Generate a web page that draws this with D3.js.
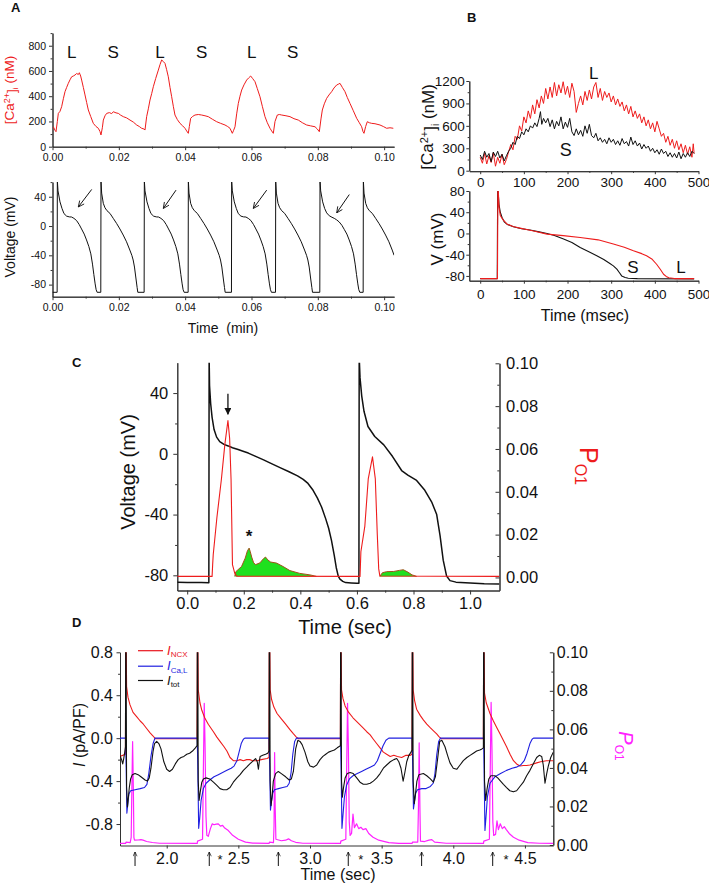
<!DOCTYPE html>
<html><head><meta charset="utf-8">
<script src="https://cdn.jsdelivr.net/npm/d3@7"></script>
<style>body{margin:0;background:#fff}svg{display:block}</style>
</head><body>
<script>
// ---------------- DATA ----------------
// Panel A top: [Ca2+]i (nM) vs time (min)
const caA = [[0.00025,158],[0.00075,130],[0.00106,119],[0.00146,200],[0.00176,264],[0.00226,280],[0.00276,317],[0.00327,380],[0.00377,436],[0.00427,470],[0.00477,502],[0.00528,530],[0.00578,554],[0.00628,560],[0.00678,568],[0.00729,580],[0.00779,572],[0.00809,586],[0.00849,560],[0.00879,528],[0.0093,470],[0.0098,410],[0.0103,350],[0.0108,291],[0.01151,240],[0.01231,185],[0.01312,160],[0.01382,146],[0.01432,120],[0.01462,93],[0.01503,150],[0.01533,211],[0.01583,245],[0.01633,264],[0.01714,270],[0.01784,262],[0.01834,277],[0.01915,268],[0.01985,264],[0.02055,250],[0.02136,238],[0.02236,228],[0.02337,211],[0.02437,195],[0.02538,172],[0.02618,160],[0.02688,146],[0.02759,140],[0.02789,132],[0.02839,238],[0.02889,300],[0.0294,370],[0.0299,420],[0.0304,475],[0.03111,540],[0.03191,607],[0.03241,650],[0.03291,687],[0.03342,675],[0.03392,660],[0.03442,610],[0.03492,554],[0.03543,470],[0.03593,396],[0.03643,320],[0.03693,251],[0.03764,215],[0.03844,185],[0.03925,165],[0.03995,146],[0.04045,125],[0.04095,106],[0.04126,160],[0.04166,225],[0.04226,240],[0.04296,251],[0.04397,255],[0.04497,251],[0.04598,245],[0.04698,238],[0.04819,218],[0.0495,198],[0.0507,185],[0.05201,172],[0.05281,160],[0.05352,146],[0.05422,106],[0.05462,130],[0.05503,158],[0.05553,260],[0.05603,343],[0.05653,400],[0.05704,449],[0.05774,490],[0.05854,528],[0.05915,545],[0.05975,560],[0.06035,540],[0.06106,515],[0.06176,460],[0.06256,396],[0.06327,320],[0.06407,238],[0.06477,190],[0.06558,146],[0.06608,125],[0.06658,106],[0.06709,200],[0.06779,251],[0.06839,255],[0.0691,251],[0.0704,245],[0.07161,238],[0.07281,222],[0.07412,211],[0.07533,190],[0.07663,172],[0.07784,165],[0.07915,158],[0.07985,140],[0.08045,119],[0.08095,220],[0.08136,291],[0.08196,340],[0.08266,383],[0.08337,410],[0.08417,436],[0.08487,465],[0.08568,489],[0.08618,495],[0.08668,502],[0.08739,470],[0.08819,436],[0.08889,390],[0.0897,343],[0.0907,285],[0.09171,225],[0.09251,190],[0.09322,158],[0.09362,120],[0.09392,106],[0.09442,160],[0.09492,198],[0.09553,190],[0.09623,185],[0.09724,182],[0.09874,172],[0.09975,160],[0.10075,146],[0.10176,150],[0.10276,146]];
// Panel A bottom: voltage (mV) vs time (min)
const vA = [[0,-90.5],[0.0014,-90.5],
[0.00146,62],[0.00166,48],[0.00226,33],[0.00286,24],[0.00346,17],[0.00426,13.5],[0.00506,12.5],[0.00576,12.3],[0.00646,10.5],[0.00726,7.5],[0.00806,2],[0.00876,-4],[0.00956,-11],[0.01026,-19],[0.01096,-28],[0.01156,-38],[0.01206,-52],[0.01246,-66],[0.01286,-79],[0.01316,-87],[0.01346,-90.5],[0.01456,-90.5],
[0.01462,62],[0.01482,45],[0.01532,31],[0.01582,25],[0.01642,21],[0.01732,17.3],[0.01832,10.5],[0.01932,3.6],[0.02032,-4],[0.02132,-12.3],[0.02232,-21.5],[0.02332,-32.8],[0.02392,-40],[0.02432,-46.4],[0.02472,-56],[0.02522,-73.7],[0.02552,-84],[0.02572,-90.5],[0.02763,-90.5],
[0.02769,62],[0.02789,48],[0.02849,33],[0.02909,24],[0.02969,17],[0.03049,13.5],[0.03129,12.5],[0.03199,12.3],[0.03269,10.5],[0.03349,7.5],[0.03429,2],[0.03499,-4],[0.03579,-11],[0.03649,-19],[0.03719,-28],[0.03779,-38],[0.03829,-52],[0.03869,-66],[0.03909,-79],[0.03939,-87],[0.03969,-90.5],[0.0409,-90.5],
[0.04096,62],[0.04116,45],[0.04166,31],[0.04216,25],[0.04276,21],[0.04366,17.3],[0.04466,10.5],[0.04566,3.6],[0.04666,-4],[0.04766,-12.3],[0.04866,-21.5],[0.04966,-32.8],[0.05026,-40],[0.05066,-46.4],[0.05106,-56],[0.05156,-73.7],[0.05186,-84],[0.05206,-90.5],[0.05396,-90.5],
[0.05402,62],[0.05422,48],[0.05482,33],[0.05542,24],[0.05602,17],[0.05682,13.5],[0.05762,12.5],[0.05832,12.3],[0.05902,10.5],[0.05982,7.5],[0.06062,2],[0.06132,-4],[0.06212,-11],[0.06282,-19],[0.06352,-28],[0.06412,-38],[0.06462,-52],[0.06502,-66],[0.06542,-79],[0.06572,-87],[0.06602,-90.5],[0.06724,-90.5],
[0.0673,62],[0.0675,45],[0.068,31],[0.0685,25],[0.0691,21],[0.07,17.3],[0.071,10.5],[0.072,3.6],[0.073,-4],[0.074,-12.3],[0.075,-21.5],[0.076,-32.8],[0.0766,-40],[0.077,-46.4],[0.0774,-56],[0.0779,-73.7],[0.0782,-84],[0.0784,-90.5],[0.0806,-90.5],
[0.08066,62],[0.08086,48],[0.08146,33],[0.08206,24],[0.08266,18],[0.08346,14],[0.08426,12],[0.08496,10.5],[0.08566,8.5],[0.08646,5.5],[0.08726,1],[0.08796,-4.5],[0.08876,-11],[0.08946,-19],[0.09016,-28],[0.09076,-38],[0.09126,-52],[0.09166,-66],[0.09206,-79],[0.09236,-87],[0.09266,-90.5],[0.09367,-90.5],
[0.09373,62],[0.09393,45],[0.09443,31],[0.09493,25],[0.09553,21],[0.09643,17.3],[0.09743,10.5],[0.09843,3.6],[0.09943,-4],[0.10043,-12.3],[0.10143,-21.5],[0.10243,-32.8],[0.103,-40]];
const labelsA = [["L",0.0058],["S",0.0183],["L",0.0324],["S",0.045],["L",0.0601],["S",0.0724]];
const arrowsA = [[0.01182,50,0.00778,26],[0.03724,49,0.03341,24],[0.06458,49,0.06054,24],[0.08949,43,0.08569,18]];

// Panel B top: [Ca2+]i (nM) vs time (msec)
const caS = [[0,210],[5,150],[10,260],[15,180],[20,230],[25,120],[30,250],[35,190],[40,260],[45,170],[50,220],[55,130],[60,200],[65,260],[70,300],[75,380],[80,350],[85,460],[90,430],[95,520],[100,480],[105,560],[110,520],[115,600],[120,570],[125,640],[130,590],[135,700],[138,790],[141,620],[145,700],[150,640],[155,700],[160,590],[165,680],[170,560],[175,660],[180,600],[185,720],[190,560],[195,650],[200,580],[205,700],[210,520],[215,470],[220,560],[225,480],[230,540],[235,460],[240,600],[245,500],[250,620],[255,470],[260,440],[265,500],[270,400],[275,440],[280,380],[285,420],[290,360],[295,440],[300,380],[305,420],[310,350],[315,400],[320,340],[325,430],[330,360],[335,390],[340,330],[345,450],[350,350],[355,400],[360,330],[365,370],[370,290],[375,350],[380,300],[385,330],[390,260],[395,300],[400,240],[405,280],[410,220],[415,290],[420,230],[425,260],[430,190],[435,240],[440,180],[445,230],[450,170],[455,250],[460,160],[465,230],[470,180],[475,240],[480,190],[485,260],[490,230]];
const caL = [[0,180],[5,100],[10,230],[15,90],[20,200],[25,110],[30,240],[35,60],[40,180],[45,100],[50,220],[55,80],[60,150],[65,250],[70,350],[75,280],[80,460],[85,420],[90,600],[95,530],[100,720],[105,640],[110,800],[115,700],[120,880],[125,760],[130,950],[135,840],[140,1000],[145,900],[150,1100],[155,960],[160,1120],[165,980],[170,1180],[175,1000],[180,1150],[185,1040],[190,1190],[195,1020],[200,1130],[205,980],[210,1170],[215,1060],[220,780],[225,900],[230,1000],[235,880],[240,1060],[245,940],[250,1080],[255,960],[260,1120],[265,1180],[270,980],[275,1100],[280,940],[285,1060],[290,980],[295,1040],[300,920],[305,1000],[310,880],[315,960],[320,860],[325,920],[330,800],[335,880],[340,760],[345,860],[350,720],[355,800],[360,700],[365,760],[370,640],[375,720],[380,600],[385,680],[390,560],[395,640],[400,520],[405,660],[410,560],[415,460],[420,500],[425,380],[430,460],[435,340],[440,420],[445,300],[450,400],[455,280],[460,360],[465,240],[470,340],[475,220],[480,320],[485,180],[488,360],[490,230]];
// Panel B bottom: V (mV) vs time (msec)
const vS = [[0,-85],[39,-85],[40,90],[41,80],[43,55],[46,40],[50,30],[55,22],[62,17],[76,12.7],[95,9],[114,6.4],[135,3],[153,0],[170,-4],[191,-10.6],[210,-17],[229,-26.5],[250,-35],[267,-42],[283,-49],[297,-56.7],[305,-61],[313,-67.3],[319,-74],[324,-80],[332,-83],[339,-84.3],[360,-85],[490,-85.5]];
const vL = [[0,-85],[39.5,-85],[40.5,90],[41.5,80],[43,50],[46,34],[52,26],[61,18],[75,13],[91,10],[120,5],[153,-1.2],[190,-4],[229,-7.5],[270,-12],[305,-20],[330,-26],[351,-32.7],[370,-38],[381,-42],[393,-48],[404,-58],[412,-67],[420,-76.8],[426,-81],[432,-83.5],[445,-85],[490,-85]];

// Panel C: voltage (mV) and P_O1 vs time (sec)
const vC = [[-0.035,-84.5],[0.0,-84.7],[0.05,-84.8],[0.0765,-84.9],[0.0775,64],[0.079,45],[0.083,33],[0.088,24],[0.095,16],[0.104,11],[0.115,8],[0.13,6.2],[0.145,5.2],[0.16,4],[0.18,2.8],[0.2,1.5],[0.216,0.5],[0.24,-1.5],[0.27,-4],[0.296,-6.3],[0.33,-9.3],[0.36,-11.8],[0.39,-14.5],[0.41,-16.8],[0.427,-19.5],[0.445,-24],[0.46,-29],[0.475,-35],[0.49,-43],[0.5,-49],[0.51,-57],[0.52,-67],[0.527,-75],[0.534,-80.5],[0.54,-82.5],[0.55,-84],[0.56,-84.8],[0.58,-85],[0.6,-85.2],[0.607,-85.2],[0.608,64],[0.611,50],[0.617,38],[0.625,28],[0.639,18],[0.663,11.4],[0.695,5.9],[0.726,-1.8],[0.758,-11],[0.78,-14],[0.811,-17.5],[0.84,-24],[0.865,-32],[0.882,-40],[0.894,-54],[0.905,-70],[0.917,-80.5],[0.929,-83.5],[0.95,-84.5],[1.0,-85],[1.05,-85.5],[1.104,-85.7]];
const pC = [[-0.035,0.0005],[0.088,0.0005],[0.090,0.006],[0.092,0.0106],[0.105,0.028],[0.121,0.046],[0.133,0.062],[0.144,0.0733],[0.150,0.065],[0.155,0.046],[0.160,0.006],[0.168,0.002],[0.175,0.0006],[0.611,0.0005],[0.614,0.012],[0.628,0.024],[0.64,0.046],[0.655,0.0563],[0.665,0.046],[0.672,0.02],[0.677,0.004],[0.681,0.0007],[1.104,0.0005]];
const greenC1 = [[0.168,0.0005],[0.172,0.0027],[0.192,0.0051],[0.205,0.009],[0.213,0.0125],[0.219,0.0137],[0.223,0.012],[0.228,0.0095],[0.235,0.0068],[0.242,0.006],[0.257,0.0068],[0.27,0.0088],[0.277,0.0095],[0.285,0.0082],[0.295,0.0072],[0.316,0.0067],[0.339,0.0051],[0.363,0.0032],[0.398,0.0019],[0.434,0.0012],[0.457,0.0005]];
const greenC2 = [[0.681,0.0005],[0.69,0.0022],[0.705,0.0027],[0.73,0.0028],[0.75,0.0033],[0.764,0.0036],[0.78,0.0025],[0.795,0.0012],[0.811,0.0005]];

// Panel D: currents (pA/PF) and P_O1 vs time (sec)
const iTot = [[1.674,-0.16],[1.685,-0.2],[1.693,-0.24],[1.7,-0.19],[1.707,-0.13],[1.712,-0.08],[1.714,1.1],[1.716,1.1],[1.72,-0.45],[1.726,-0.64],[1.732,-0.56],[1.739,-0.46],[1.748,-0.38],[1.76,-0.34],[1.779,-0.33],[1.8,-0.34],[1.82,-0.36],[1.849,-0.39],[1.865,-0.4],[1.878,-0.37],[1.89,-0.28],[1.905,-0.12],[1.915,-0.05],[1.93,-0.03],[1.945,-0.05],[1.96,-0.1],[1.98,-0.22],[2.0,-0.29],[2.02,-0.31],[2.04,-0.29],[2.06,-0.24],[2.08,-0.2],[2.1,-0.18],[2.12,-0.17],[2.14,-0.15],[2.16,-0.14],[2.18,-0.12],[2.2,-0.09],[2.212,-0.07],
[2.214,1.1],[2.216,1.1],[2.22,-0.4],[2.226,-0.58],[2.234,-0.5],[2.245,-0.41],[2.256,-0.38],[2.275,-0.37],[2.3,-0.38],[2.326,-0.41],[2.35,-0.44],[2.372,-0.47],[2.395,-0.48],[2.419,-0.48],[2.442,-0.46],[2.465,-0.41],[2.49,-0.37],[2.512,-0.34],[2.535,-0.3],[2.558,-0.27],[2.58,-0.24],[2.605,-0.21],[2.62,-0.19],[2.632,-0.22],[2.64,-0.29],[2.646,-0.22],[2.652,-0.17],[2.67,-0.16],[2.69,-0.15],[2.705,-0.14],[2.714,-0.12],
[2.716,1.1],[2.718,1.1],[2.722,-0.4],[2.728,-0.63],[2.735,-0.55],[2.744,-0.4],[2.76,-0.33],[2.779,-0.31],[2.8,-0.33],[2.83,-0.36],[2.855,-0.39],[2.87,-0.38],[2.884,-0.31],[2.9,-0.1],[2.915,-0.02],[2.93,-0.03],[2.945,-0.06],[2.965,-0.13],[2.985,-0.22],[3.0,-0.26],[3.025,-0.27],[3.047,-0.25],[3.07,-0.2],[3.09,-0.17],[3.11,-0.15],[3.13,-0.13],[3.15,-0.12],[3.17,-0.11],[3.19,-0.09],[3.212,-0.07],
[3.214,1.1],[3.216,1.1],[3.22,-0.4],[3.226,-0.55],[3.234,-0.46],[3.245,-0.37],[3.26,-0.33],[3.28,-0.32],[3.302,-0.33],[3.326,-0.37],[3.349,-0.41],[3.372,-0.43],[3.396,-0.43],[3.42,-0.42],[3.442,-0.4],[3.466,-0.37],[3.489,-0.33],[3.512,-0.28],[3.535,-0.25],[3.56,-0.22],[3.585,-0.2],[3.605,-0.19],[3.62,-0.22],[3.635,-0.28],[3.65,-0.4],[3.662,-0.32],[3.675,-0.22],[3.69,-0.16],[3.705,-0.13],[3.712,-0.11],
[3.714,1.1],[3.716,1.1],[3.72,-0.4],[3.728,-0.61],[3.736,-0.52],[3.746,-0.4],[3.76,-0.34],[3.791,-0.33],[3.815,-0.35],[3.84,-0.38],[3.861,-0.41],[3.875,-0.36],[3.89,-0.2],[3.905,-0.03],[3.92,-0.02],[3.942,-0.08],[3.96,-0.16],[3.977,-0.23],[4.0,-0.28],[4.024,-0.29],[4.047,-0.25],[4.07,-0.21],[4.095,-0.18],[4.117,-0.16],[4.14,-0.14],[4.163,-0.12],[4.185,-0.11],[4.2,-0.1],[4.21,-0.09],
[4.212,1.1],[4.214,1.1],[4.218,-0.4],[4.226,-0.58],[4.236,-0.47],[4.248,-0.38],[4.262,-0.35],[4.29,-0.35],[4.31,-0.37],[4.33,-0.4],[4.35,-0.43],[4.372,-0.46],[4.395,-0.49],[4.419,-0.5],[4.442,-0.49],[4.465,-0.45],[4.489,-0.41],[4.512,-0.35],[4.535,-0.3],[4.558,-0.24],[4.582,-0.18],[4.6,-0.16],[4.617,-0.17],[4.628,-0.25],[4.64,-0.42],[4.652,-0.33],[4.663,-0.26],[4.68,-0.18],[4.698,-0.13]];
const iCaL = [[1.674,0],[1.713,0],[1.716,-0.2],[1.722,-0.7],[1.728,-0.62],[1.736,-0.52],[1.748,-0.49],[1.779,-0.48],[1.815,-0.47],[1.845,-0.46],[1.862,-0.43],[1.875,-0.33],[1.89,-0.17],[1.905,-0.05],[1.918,0],[2.213,0],
[2.216,-0.2],[2.223,-0.84],[2.23,-0.75],[2.24,-0.58],[2.256,-0.47],[2.275,-0.42],[2.3,-0.39],[2.33,-0.36],[2.36,-0.34],[2.39,-0.32],[2.42,-0.3],[2.45,-0.28],[2.47,-0.26],[2.49,-0.21],[2.505,-0.13],[2.52,-0.05],[2.535,-0.01],[2.545,0],[2.715,0],
[2.718,-0.2],[2.724,-0.67],[2.73,-0.6],[2.74,-0.51],[2.752,-0.48],[2.78,-0.47],[2.81,-0.46],[2.84,-0.45],[2.855,-0.42],[2.868,-0.32],[2.88,-0.15],[2.893,-0.03],[2.905,0],[3.213,0],
[3.216,-0.2],[3.223,-0.84],[3.23,-0.72],[3.24,-0.55],[3.255,-0.44],[3.275,-0.38],[3.3,-0.35],[3.33,-0.33],[3.36,-0.31],[3.39,-0.29],[3.42,-0.27],[3.45,-0.25],[3.47,-0.21],[3.49,-0.14],[3.51,-0.07],[3.53,-0.02],[3.55,0],[3.713,0],
[3.716,-0.2],[3.722,-0.66],[3.728,-0.6],[3.738,-0.51],[3.75,-0.48],[3.78,-0.47],[3.81,-0.47],[3.84,-0.45],[3.86,-0.42],[3.872,-0.33],[3.885,-0.15],[3.898,-0.03],[3.91,0],[4.211,0],
[4.214,-0.2],[4.221,-0.86],[4.228,-0.74],[4.238,-0.55],[4.256,-0.42],[4.29,-0.36],[4.33,-0.33],[4.372,-0.3],[4.41,-0.28],[4.44,-0.27],[4.47,-0.25],[4.495,-0.21],[4.515,-0.14],[4.535,-0.05],[4.55,-0.01],[4.56,0],[4.698,0]];
const iNCX = [[1.674,-0.17],[1.712,-0.15],[1.714,1.1],[1.716,1.1],[1.72,0.48],[1.73,0.38],[1.744,0.31],[1.765,0.24],[1.79,0.2],[1.815,0.16],[1.837,0.13],[1.86,0.09],[1.884,0.05],[1.905,0.02],[1.92,-0.005],[2.212,-0.005],
[2.214,1.1],[2.216,1.1],[2.22,0.45],[2.232,0.33],[2.245,0.26],[2.265,0.19],[2.29,0.13],[2.326,0.06],[2.35,0.01],[2.372,-0.03],[2.4,-0.08],[2.42,-0.12],[2.442,-0.18],[2.465,-0.21],[2.49,-0.21],[2.512,-0.2],[2.535,-0.21],[2.558,-0.2],[2.58,-0.2],[2.6,-0.21],[2.63,-0.21],[2.66,-0.2],[2.7,-0.19],[2.714,-0.18],
[2.716,1.1],[2.718,1.1],[2.722,0.45],[2.732,0.36],[2.748,0.29],[2.77,0.23],[2.8,0.18],[2.83,0.13],[2.86,0.08],[2.885,0.04],[2.905,0.01],[2.92,-0.005],[3.212,-0.005],
[3.214,1.1],[3.216,1.1],[3.22,0.45],[3.23,0.37],[3.245,0.3],[3.27,0.24],[3.3,0.19],[3.33,0.15],[3.36,0.11],[3.396,0.06],[3.42,0.03],[3.442,-0.01],[3.465,-0.05],[3.489,-0.09],[3.512,-0.13],[3.535,-0.15],[3.56,-0.17],[3.585,-0.16],[3.61,-0.17],[3.64,-0.18],[3.67,-0.16],[3.7,-0.16],[3.712,-0.15],
[3.714,1.1],[3.716,1.1],[3.72,0.45],[3.73,0.35],[3.744,0.27],[3.77,0.21],[3.791,0.17],[3.815,0.13],[3.837,0.1],[3.86,0.07],[3.884,0.04],[3.9,0.015],[3.915,-0.005],[4.21,-0.005],
[4.212,1.1],[4.214,1.1],[4.218,0.42],[4.23,0.33],[4.256,0.23],[4.28,0.16],[4.303,0.1],[4.326,0.04],[4.349,-0.02],[4.372,-0.08],[4.396,-0.15],[4.42,-0.21],[4.442,-0.24],[4.465,-0.26],[4.49,-0.255],[4.512,-0.255],[4.535,-0.25],[4.558,-0.24],[4.582,-0.23],[4.61,-0.22],[4.65,-0.21],[4.698,-0.21]];
const pD = [[1.674,0.0008],[1.713,0.0008],[1.716,0.0015],[1.745,0.0012],[1.752,0.004],[1.757,0.03],[1.762,0.0536],[1.767,0.03],[1.771,0.004],[1.775,0.0025],[1.8,0.0026],[1.82,0.0028],[1.835,0.0025],[1.86,0.0018],[1.9,0.0013],[1.95,0.0009],[2.213,0.0008],
[2.215,0.002],[2.25,0.003],[2.256,0.04],[2.262,0.0735],[2.268,0.05],[2.274,0.015],[2.28,0.005],[2.29,0.0045],[2.305,0.0085],[2.318,0.011],[2.33,0.0105],[2.345,0.0108],[2.36,0.011],[2.375,0.0098],[2.39,0.0102],[2.405,0.0088],[2.43,0.0075],[2.46,0.005],[2.5,0.003],[2.55,0.0015],[2.6,0.001],[2.715,0.0008],
[2.717,0.0015],[2.745,0.0012],[2.749,0.01],[2.753,0.048],[2.757,0.02],[2.762,0.003],[2.8,0.0022],[2.83,0.0025],[2.85,0.0032],[2.87,0.0022],[2.9,0.0014],[2.95,0.0009],[3.213,0.0008],
[3.215,0.002],[3.25,0.003],[3.256,0.04],[3.262,0.0735],[3.268,0.05],[3.274,0.012],[3.28,0.005],[3.29,0.006],[3.3,0.016],[3.31,0.009],[3.325,0.011],[3.34,0.0085],[3.355,0.0092],[3.37,0.008],[3.39,0.0085],[3.41,0.006],[3.44,0.004],[3.48,0.0025],[3.55,0.0012],[3.62,0.0008],[3.713,0.0008],
[3.715,0.0015],[3.752,0.0015],[3.757,0.02],[3.762,0.053],[3.767,0.02],[3.771,0.002],[3.8,0.0018],[3.83,0.0025],[3.85,0.0028],[3.87,0.0015],[3.95,0.0009],[4.211,0.0008],
[4.213,0.002],[4.252,0.003],[4.258,0.04],[4.264,0.074],[4.27,0.05],[4.276,0.012],[4.282,0.005],[4.295,0.0055],[4.305,0.0125],[4.315,0.008],[4.328,0.011],[4.342,0.0085],[4.356,0.0095],[4.37,0.008],[4.39,0.006],[4.42,0.004],[4.46,0.0025],[4.52,0.0012],[4.6,0.0009],[4.698,0.0008]];
const arrowTimesD = [1.779,2.297,2.779,3.267,3.779,4.275];
const starTimesD = [2.372,3.354,4.368];
const legendD = [["NCX","#e8141c"],["Ca,L","#1f1fe0"],["tot","#111"]];

// ---------------- DRAWING ----------------
const FF = '"Liberation Sans", Arial, Helvetica, sans-serif';
const svg = d3.select('body').append('svg').attr('width',709).attr('height',884).style('font-family',FF);
const defs = svg.append('defs');
const RED='#ee1c1c', BLUE='#1f1fe0', MAG='#ff22ff', GREEN='#1ee01e', BLK='#111';

function clip(id,x0,y0,x1,y1){defs.append('clipPath').attr('id',id).append('rect').attr('x',x0).attr('y',y0).attr('width',x1-x0).attr('height',y1-y0);}
function axis(kind, scale, tx, ty, majors, minors, fmt, fs, tick, pad, inward){
  const A={l:d3.axisLeft,r:d3.axisRight,b:d3.axisBottom}[kind];
  const s = inward?-1:1;
  if(minors && minors.length){
    const gm=svg.append('g').attr('transform',`translate(${tx},${ty})`)
      .call(A(scale).tickValues(minors).tickSize(s*tick*0.55).tickFormat('').tickSizeOuter(0));
    gm.selectAll('line,path').attr('stroke','#333');
  }
  const g=svg.append('g').attr('transform',`translate(${tx},${ty})`)
    .call(A(scale).tickValues(majors).tickSize(s*tick).tickPadding(pad).tickFormat(fmt).tickSizeOuter(0));
  g.attr('font-size',fs).attr('font-family',FF);
  g.selectAll('line,path').attr('stroke','#333');
  g.selectAll('text').attr('fill','#111');
  return g;
}
function trace(data,x,y,color,w,clipId){
  return svg.append('path').datum(data)
    .attr('d',d3.line().x(d=>x(d[0])).y(d=>y(d[1])))
    .attr('fill','none').attr('stroke',color).attr('stroke-width',w)
    .attr('stroke-linejoin','round').attr('clip-path',clipId?`url(#${clipId})`:null);
}
function vlabel(x,y,rot,fs,color){
  return svg.append('text').attr('transform',`translate(${x},${y}) rotate(${rot})`)
    .attr('text-anchor','middle').attr('dy','0.35em').attr('font-size',fs).attr('fill',color);
}
function panelLabel(t,x,y){svg.append('text').attr('x',x).attr('y',y).text(t).attr('font-weight','bold').attr('font-size',13).attr('fill','#111');}
const f1=d=>d.toFixed(1), f2=d=>d.toFixed(2), fi=d=>String(d);

// markers
defs.append('marker').attr('id','openHead').attr('viewBox','0 0 10 10').attr('refX',9.5).attr('refY',5)
  .attr('markerWidth',7).attr('markerHeight',7).attr('orient','auto').attr('markerUnits','userSpaceOnUse')
  .append('path').attr('d','M1,1 L9.5,5 L1,9').attr('fill','none').attr('stroke','#111').attr('stroke-width',1.2);
defs.append('marker').attr('id','fillHead').attr('viewBox','0 0 10 10').attr('refX',9).attr('refY',5)
  .attr('markerWidth',7).attr('markerHeight',7).attr('orient','auto').attr('markerUnits','userSpaceOnUse')
  .append('path').attr('d','M0,0 L10,5 L0,10 Z').attr('fill','#111');
defs.append('marker').attr('id','smallHead').attr('viewBox','0 0 10 10').attr('refX',9.5).attr('refY',5)
  .attr('markerWidth',5).attr('markerHeight',5).attr('orient','auto').attr('markerUnits','userSpaceOnUse')
  .append('path').attr('d','M1,1 L9.5,5 L1,9').attr('fill','none').attr('stroke','#111').attr('stroke-width',1.4);

// ===== Panel A =====
panelLabel('A',11,12);
const xA = d3.scaleLinear().domain([0,0.103]).range([52.5,394.1]);
const yA1 = d3.scaleLinear().domain([0,900]).range([146.7,33.1]);
const yA2 = d3.scaleLinear().domain([-96.5,60]).range([296.7,182.1]);
clip('cA1',52.5,33,394.1,146.7); clip('cA2',52.5,182.1,394.1,296.7);
axis('l',yA1,52.5,0,[0,200,400,600,800],[100,300,500,700,900],fi,10.5,3.5,3,false);
axis('b',xA,0,146.7,[0,0.02,0.04,0.06,0.08,0.1],[0.01,0.03,0.05,0.07,0.09],f2,10.5,3.5,3,false);
axis('l',yA2,52.5,0,[-80,-40,0,40],[-60,-20,20,60],fi,10.5,3.5,3,false);
axis('b',xA,0,296.7,[0,0.02,0.04,0.06,0.08,0.1],[0.01,0.03,0.05,0.07,0.09],f2,10.5,3.5,3,false);
trace(caA,xA,yA1,RED,1,'cA1');
trace(vA,xA,yA2,BLK,1,'cA2');
labelsA.forEach(([t,x])=>svg.append('text').attr('x',xA(x)).attr('y',yA1(750)+6).attr('text-anchor','middle').attr('font-size',17).attr('fill','#111').text(t));
arrowsA.forEach(a=>svg.append('line').attr('x1',xA(a[0])).attr('y1',yA2(a[1])).attr('x2',xA(a[2])).attr('y2',yA2(a[3])).attr('stroke','#111').attr('stroke-width',1).attr('marker-end','url(#openHead)'));
{const t=vlabel(9,90,-90,13.5,RED); t.append('tspan').text('[Ca');t.append('tspan').attr('dy','-0.45em').attr('font-size',9).text('2+');t.append('tspan').attr('dy','0.45em').text(']');t.append('tspan').attr('dy','0.3em').attr('font-size',8).text('i');t.append('tspan').attr('dy','-0.3em').text(' (nM)');}
vlabel(10,237,-90,14,'#111').text('Voltage (mV)');
svg.append('text').attr('x',223).attr('y',333).attr('text-anchor','middle').attr('font-size',14).attr('fill','#111').attr('xml:space','preserve').text('Time  (min)');

// ===== Panel B =====
panelLabel('B',467,22);
const xB = d3.scaleLinear().domain([-25,500]).range([469.3,698.5]);
const yB1 = d3.scaleLinear().domain([0,1200]).range([170.7,81]);
const yB2 = d3.scaleLinear().domain([-89,80]).range([280.7,191]);
clip('cB1',469.3,78,698.5,171.2); clip('cB2',469.3,191,698.5,280.7);
axis('l',yB1,469.3,0,[0,300,600,900,1200],[150,450,750,1050],fi,13.5,3,1.5,false);
axis('b',xB,0,171.2,[0,100,200,300,400,500],[50,150,250,350,450],fi,13.5,3,3,false);
axis('l',yB2,469.3,0,[-80,-40,0,40,80],[-60,-20,20,60],fi,13.5,3,1.5,false);
axis('b',xB,0,280.7,[0,100,200,300,400,500],[50,150,250,350,450],fi,13.5,3,5.5,false);
trace(caL,xB,yB1,RED,1,'cB1');
trace(caS,xB,yB1,BLK,1,'cB1');
trace(vS,xB,yB2,BLK,1.1,'cB2');
trace(vL,xB,yB2,RED,1.1,'cB2');
svg.append('text').attr('x',xB(260)).attr('y',yB1(1230)).attr('text-anchor','middle').attr('font-size',17).attr('fill','#111').text('L');
svg.append('text').attr('x',xB(196)).attr('y',yB1(195)).attr('text-anchor','middle').attr('font-size',18).attr('fill','#111').text('S');
svg.append('text').attr('x',xB(350)).attr('y',yB2(-74)).attr('text-anchor','middle').attr('font-size',17).attr('fill','#111').text('S');
svg.append('text').attr('x',xB(460)).attr('y',yB2(-74)).attr('text-anchor','middle').attr('font-size',17).attr('fill','#111').text('L');
{const t=vlabel(427,127,-90,17,'#111'); t.append('tspan').text('[Ca');t.append('tspan').attr('dy','-0.45em').attr('font-size',11).text('2+');t.append('tspan').attr('dy','0.45em').text(']');t.append('tspan').attr('dy','0.3em').attr('font-size',10).text('i');t.append('tspan').attr('dy','-0.3em').text(' (nM)');}
vlabel(437,239,-90,17,'#111').text('V (mV)');
svg.append('text').attr('x',585).attr('y',321).attr('text-anchor','middle').attr('font-size',16).attr('fill','#111').text('Time (msec)');

// ===== Panel C =====
panelLabel('C',72,367);
const xC = d3.scaleLinear().domain([-0.035,1.104]).range([177.3,499.5]);
const yC = d3.scaleLinear().domain([-90,60]).range([590.5,362.7]);
const yCr = d3.scaleLinear().domain([-0.006,0.1]).range([590.3,363.3]);
clip('cC',177.3,362.7,499.5,590.5);
axis('l',yC,177.3,0,[-80,-40,0,40],[-60,-20,20],fi,16.5,4,5,false);
axis('r',yCr,499.5,0,[0,0.02,0.04,0.06,0.08,0.1],[0.01,0.03,0.05,0.07,0.09],f2,16.5,4,6.5,true);
axis('b',xC,0,590.5,[0,0.2,0.4,0.6,0.8,1.0],[0.1,0.3,0.5,0.7,0.9],f1,16.5,4,3,false);
const areaC = d3.area().x(d=>xC(d[0])).y0(yCr(0.0005)).y1(d=>yCr(d[1]));
[greenC1,greenC2].forEach(g=>{
  svg.append('path').datum(g).attr('d',areaC).attr('fill',GREEN).attr('clip-path','url(#cC)');
  trace(g,xC,yCr,'#a0521a',1,'cC');
});
trace(vC,xC,yC,BLK,1.5,'cC');
trace(pC,xC,yCr,RED,1.1,'cC');
svg.append('line').attr('x1',xC(0.144)).attr('x2',xC(0.144)).attr('y1',yCr(0.0858)).attr('y2',yCr(0.0762)).attr('stroke','#111').attr('stroke-width',1.3).attr('marker-end','url(#fillHead)');
svg.append('text').attr('x',xC(0.219)).attr('y',yCr(0.0137)-6).attr('text-anchor','middle').attr('font-size',17).attr('font-weight','bold').attr('fill','#111').text('*');
vlabel(128,472,-90,20,'#111').text('Voltage (mV)');
svg.append('text').attr('x',345).attr('y',634).attr('text-anchor','middle').attr('font-size',20).attr('fill','#111').text('Time (sec)');
{const t=svg.append('text').attr('transform','translate(580,466) rotate(90)').attr('text-anchor','middle').attr('font-size',25).attr('fill',RED);
 t.append('tspan').text('P');t.append('tspan').attr('dy','0.3em').attr('font-size',16).text('O1');}

// ===== Panel D =====
panelLabel('D',72,627);
const xD = d3.scaleLinear().domain([1.674,4.698]).range([120,553.3]);
const yD = d3.scaleLinear().domain([-1.0,0.8]).range([845.5,652.3]);
const yDr = d3.scaleLinear().domain([0,0.1]).range([845,652.3]);
clip('cD',120,652.3,553.3,845.5);
axis('l',yD,120,0,[-0.8,-0.4,0,0.4,0.8],[-0.6,-0.2,0.2,0.6],f1,16,3.5,3.5,false);
axis('r',yDr,553.3,0,[0,0.02,0.04,0.06,0.08,0.1],[0.01,0.03,0.05,0.07,0.09],f2,16,3.5,3.5,true);
axis('b',xD,0,845.5,[2.0,2.5,3.0,3.5,4.0,4.5],[],f1,16,3,4,false);
trace(pD,xD,yDr,MAG,1.2,'cD');
trace(iNCX,xD,yD,RED,1.1,'cD');
trace(iCaL,xD,yD,BLUE,1.1,'cD');
trace(iTot,xD,yD,BLK,1.1,'cD');
// upward arrows under the axis at the P_O1 peaks
arrowTimesD.forEach(t=>svg.append('line').attr('x1',xD(t)).attr('x2',xD(t)).attr('y1',866).attr('y2',852)
  .attr('stroke','#111').attr('stroke-width',1).attr('marker-end','url(#smallHead)'));
starTimesD.forEach(t=>svg.append('text').attr('x',xD(t)).attr('y',864).attr('text-anchor','middle').attr('font-size',13).attr('fill','#111').text('*'));
legendD.forEach(([s,c],i)=>{
  const y=[650.7,666.2,680.5][i];
  svg.append('line').attr('x1',138).attr('x2',163).attr('y1',y).attr('y2',y).attr('stroke',c).attr('stroke-width',1.2);
  const t=svg.append('text').attr('x',167).attr('y',y+4).attr('font-size',13).attr('fill',c);
  t.append('tspan').attr('font-style','italic').text('I');
  t.append('tspan').attr('dy','2.5').attr('font-size',8).text(s);
});
{const t=vlabel(79,735,-90,16,'#111'); t.append('tspan').attr('font-style','italic').text('I');t.append('tspan').text(' (pA/PF)');}
svg.append('text').attr('x',338).attr('y',880).attr('text-anchor','middle').attr('font-size',16).attr('fill','#111').text('Time (sec)');
{const t=svg.append('text').attr('transform','translate(619,746) rotate(90)').attr('text-anchor','middle').attr('font-size',20).attr('fill',MAG);
 t.append('tspan').attr('font-style','italic').text('P');t.append('tspan').attr('dy','0.3em').attr('font-size',12).text('O1');}
</script>
</body></html>
